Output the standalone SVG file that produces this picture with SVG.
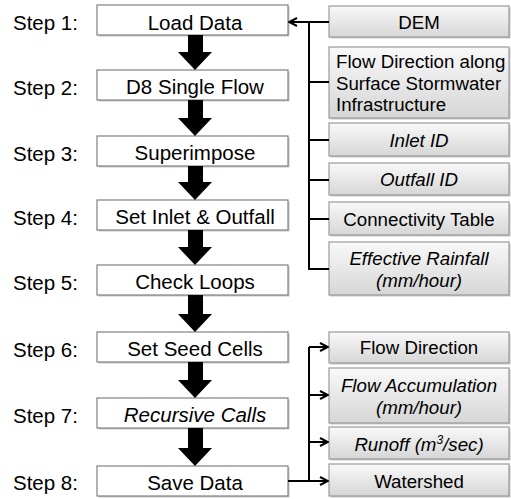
<svg xmlns="http://www.w3.org/2000/svg" width="511" height="499" viewBox="0 0 511 499">
<defs>
<linearGradient id="g" x1="0" y1="0" x2="0" y2="1">
<stop offset="0" stop-color="#f9f9f9"/>
<stop offset="1" stop-color="#d6d6d6"/>
</linearGradient>
<marker id="ah" viewBox="0 0 10 10" refX="9" refY="5" markerWidth="10" markerHeight="10" markerUnits="userSpaceOnUse" orient="auto">
<path d="M1,1 L9,5 L1,9" fill="none" stroke="#000" stroke-width="2"/>
</marker>
<style>
text{font-family:"Liberation Sans",Arial,sans-serif;fill:#000}
.lbl{font-size:20.5px}
.st{font-size:20.5px;text-anchor:middle}
.rt{font-size:18.7px;text-anchor:middle}
.rl{font-size:18.7px}
.it{font-style:italic}
.sb{fill:#fff;stroke:#808080;stroke-width:1.2}
.sh{fill:#c8c8c8}
.rb{fill:url(#g);stroke:#9a9a9a;stroke-width:1.2}
.bk{fill:#000}
.cn{fill:none;stroke:#000;stroke-width:2}
</style>
</defs>
<rect width="511" height="499" fill="#fff"/>

<g id="labels">
<text class="lbl" x="13" y="30">Step 1:</text>
<text class="lbl" x="13" y="95">Step 2:</text>
<text class="lbl" x="13" y="161">Step 3:</text>
<text class="lbl" x="13" y="225">Step 4:</text>
<text class="lbl" x="13" y="290">Step 5:</text>
<text class="lbl" x="13" y="357">Step 6:</text>
<text class="lbl" x="13" y="423">Step 7:</text>
<text class="lbl" x="13" y="490">Step 8:</text>
</g>

<g id="step1"><rect class="sh" x="98.5" y="6.5" width="191" height="30"/><rect class="sb" x="97" y="5" width="191" height="30"/><text class="st" x="195" y="30">Load Data</text></g>
<g id="step2"><rect class="sh" x="98.5" y="71.5" width="191" height="30"/><rect class="sb" x="97" y="70" width="191" height="30"/><text class="st" x="195" y="94">D8 Single Flow</text></g>
<g id="step3"><rect class="sh" x="98.5" y="137.5" width="191" height="30"/><rect class="sb" x="97" y="136" width="191" height="30"/><text class="st" x="195" y="160">Superimpose</text></g>
<g id="step4"><rect class="sh" x="98.5" y="201.5" width="191" height="30"/><rect class="sb" x="97" y="200" width="191" height="30"/><text class="st" x="195" y="224">Set Inlet &amp; Outfall</text></g>
<g id="step5"><rect class="sh" x="98.5" y="266.5" width="191" height="30"/><rect class="sb" x="97" y="265" width="191" height="30"/><text class="st" x="195" y="289">Check Loops</text></g>
<g id="step6"><rect class="sh" x="98.5" y="333.5" width="191" height="30"/><rect class="sb" x="97" y="332" width="191" height="30"/><text class="st" x="195" y="356">Set Seed Cells</text></g>
<g id="step7"><rect class="sh" x="98.5" y="399.5" width="191" height="30"/><rect class="sb" x="97" y="398" width="191" height="30"/><text class="st it" x="195" y="422">Recursive Calls</text></g>
<g id="step8"><rect class="sh" x="98.5" y="467.5" width="191" height="30"/><rect class="sb" x="97" y="466" width="191" height="30"/><text class="st" x="195" y="490">Save Data</text></g>

<g id="in-dem"><rect class="sh" x="330.5" y="7.5" width="180" height="31"/><rect class="rb" x="329" y="6" width="180" height="31"/><text class="rt" x="419" y="29">DEM</text></g>
<g id="in-flowdir"><rect class="sh" x="330.5" y="48.5" width="180" height="71"/><rect class="rb" x="329" y="47" width="180" height="71"/><text class="rl" x="336" y="68">Flow Direction along</text><text class="rl" x="336" y="89.5">Surface Stormwater</text><text class="rl" x="336" y="111">Infrastructure</text></g>
<g id="in-inlet"><rect class="sh" x="330.5" y="124.5" width="180" height="33"/><rect class="rb" x="329" y="123" width="180" height="33"/><text class="rt it" x="419" y="147">Inlet ID</text></g>
<g id="in-outfall"><rect class="sh" x="330.5" y="164.5" width="180" height="32"/><rect class="rb" x="329" y="163" width="180" height="32"/><text class="rt it" x="419" y="186">Outfall ID</text></g>
<g id="in-conn"><rect class="sh" x="330.5" y="203.5" width="180" height="33"/><rect class="rb" x="329" y="202" width="180" height="33"/><text class="rt" x="419" y="226">Connectivity Table</text></g>
<g id="in-rain"><rect class="sh" x="330.5" y="243.5" width="180" height="53"/><rect class="rb" x="329" y="242" width="180" height="53"/><text class="rt it" x="419" y="265">Effective Rainfall</text><text class="rt it" x="419" y="287">(mm/hour)</text></g>

<g id="out-flowdir"><rect class="sh" x="330.5" y="333.5" width="180" height="31"/><rect class="rb" x="329" y="332" width="180" height="31"/><text class="rt" x="419" y="354">Flow Direction</text></g>
<g id="out-flowacc"><rect class="sh" x="330.5" y="369.5" width="180" height="55"/><rect class="rb" x="329" y="368" width="180" height="55"/><text class="rt it" x="419" y="392">Flow Accumulation</text><text class="rt it" x="419" y="414">(mm/hour)</text></g>
<g id="out-runoff"><rect class="sh" x="330.5" y="428.5" width="180" height="32"/><rect class="rb" x="329" y="427" width="180" height="32"/><text class="rt it" x="419" y="451">Runoff (m<tspan font-size="12" dy="-7">3</tspan><tspan dy="7">/sec)</tspan></text></g>
<g id="out-watershed"><rect class="sh" x="330.5" y="465.5" width="180" height="32"/><rect class="rb" x="329" y="464" width="180" height="32"/><text class="rt" x="419" y="488">Watershed</text></g>

<g id="connectors">
<path class="bk" d="M188,35 L203,35 L203,52 L212,52 L195,70 L178,52 L188,52 Z"/>
<path class="bk" d="M188,100 L203,100 L203,118 L212,118 L195,136 L178,118 L188,118 Z"/>
<path class="bk" d="M188,166 L203,166 L203,182 L212,182 L195,200 L178,182 L188,182 Z"/>
<path class="bk" d="M188,230 L203,230 L203,247 L212,247 L195,265 L178,247 L188,247 Z"/>
<path class="bk" d="M188,295 L203,295 L203,314 L212,314 L195,332 L178,314 L188,314 Z"/>
<path class="bk" d="M188,362 L203,362 L203,380 L212,380 L195,398 L178,380 L188,380 Z"/>
<path class="bk" d="M188,428 L203,428 L203,448 L212,448 L195,466 L178,448 L188,448 Z"/>

<path class="cn" d="M329,22 L309,22 L309,269 L329,269"/>
<path class="cn" d="M309,82 L329,82 M309,140 L329,140 M309,180 L329,180 M309,219 L329,219"/>
<path class="cn" d="M309,22 L289,22" marker-end="url(#ah)"/>

<path class="cn" d="M288,481 L309,481 M309,347 L309,481"/>
<path class="cn" d="M309,347 L328,347" marker-end="url(#ah)"/>
<path class="cn" d="M309,395 L328,395" marker-end="url(#ah)"/>
<path class="cn" d="M309,442 L328,442" marker-end="url(#ah)"/>
<path class="cn" d="M309,481 L328,481" marker-end="url(#ah)"/>
</g>
</svg>
